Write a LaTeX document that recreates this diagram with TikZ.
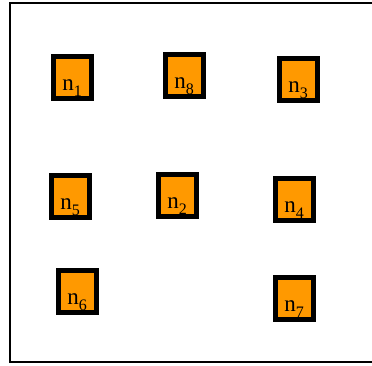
\documentclass[tikz,border=0pt]{standalone}
\usepackage{fontspec}
\setmainfont{Liberation Serif}
\usepackage{xcolor}
\definecolor{nodeorange}{RGB}{255,153,0}
\newcommand{\nlabel}[1]{n\raisebox{-6pt}{\fontsize{16pt}{16pt}\selectfont #1}}

\begin{document}
\begin{tikzpicture}[x=1pt, y=-1pt,
    nodebox/.style={draw, line width=5pt, fill=nodeorange, inner sep=0pt,
        minimum width=38pt, text height=34pt, text depth=8pt,
        font=\fontsize{23pt}{23pt}\selectfont}]
    \clip (0,0) rectangle (372,365);
    \draw[line width=2pt] (10,3) -- (380,3) -- (380,362) -- (10,362) -- cycle;

    \node[nodebox] (n1) at (72,77) {\nlabel{1}};
    \node[nodebox] (n8) at (184,75) {\nlabel{8}};
    \node[nodebox] (n3) at (298,79) {\nlabel{3}};
    \node[nodebox] (n5) at (70,196) {\nlabel{5}};
    \node[nodebox] (n2) at (177,195) {\nlabel{2}};
    \node[nodebox] (n4) at (294,199) {\nlabel{4}};
    \node[nodebox] (n6) at (77,291) {\nlabel{6}};
    \node[nodebox] (n7) at (294,298) {\nlabel{7}};
\end{tikzpicture}
\end{document}
